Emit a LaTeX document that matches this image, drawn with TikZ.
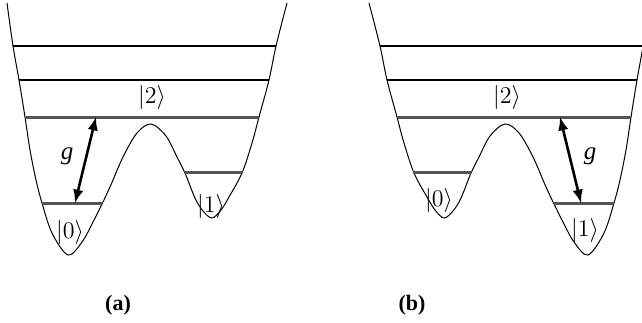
\documentclass[tikz,border=0pt]{standalone}
\usepackage{fontspec}
\setmainfont{Liberation Serif}
\usepackage{amsmath}
\usetikzlibrary{arrows}
\definecolor{lvlgray}{RGB}{85,85,85}

\begin{document}
\begin{tikzpicture}[x=0.5pt,y=-0.5pt]
\useasboundingbox (0,0) rectangle (642,322);
\def\wall{plot[smooth, tension=0.55] coordinates {(7,3) (13,46) (19,80) (25,117) (30,150) (36,180) (42,203) (52,233) (68,255) (82,242) (92,224) (102,204) (110,187) (123,157) (137,133) (151,124) (166,136) (177,157) (185,173) (195,198) (203,211) (212,218) (221,210) (229,197) (242,173) (252,143) (259,117) (269,80) (276,46) (287,3)}}
\tikzset{lvl/.style={line width=1.5pt, color=lvlgray},
 thin lvl/.style={line width=0.6pt},
 ket/.style={font=\fontsize{12.5}{12.5}\selectfont, inner sep=1pt},
 coup/.style={latex-latex, line width=1.3pt}}

% (a) deep well on the left
\draw[line width=0.5pt] \wall;
\begin{scope}
\clip \wall -- cycle;
\draw[thin lvl] (0,46) -- (300,46);
\draw[thin lvl] (0,80) -- (300,80);
\draw[lvl] (0,117) -- (300,117);
\draw[lvl] (0,203) -- (150,203);
\draw[lvl] (150,172) -- (300,172);
\end{scope}
\coordinate (a-up) at (96,117);
\coordinate (a-lo) at (75,203);
\draw[coup] (a-up) -- (a-lo);
\node[ket] (a-two) at (152,97) {$\left|2\right\rangle$};
\node[ket] (a-zero) at (70,232) {$\left|0\right\rangle$};
\node[ket] (a-one) at (211,206) {$\left|1\right\rangle$};
\node[font=\fontsize{12.5}{12.5}\selectfont\itshape] (a-g) at (67,156) {g};
\node[font=\fontsize{11}{11}\selectfont\bfseries] (a-lab) at (118,305) {(a)};

% (b) same picture, mirrored
\begin{scope}[shift={(656,0)}, xscale=-1]
\draw[line width=0.5pt] \wall;
\begin{scope}
\clip \wall -- cycle;
\draw[thin lvl] (0,46) -- (300,46);
\draw[thin lvl] (0,80) -- (300,80);
\draw[lvl] (0,117) -- (300,117);
\draw[lvl] (0,203) -- (150,203);
\draw[lvl] (150,172) -- (300,172);
\end{scope}
\coordinate (b-up) at (96,117);
\coordinate (b-lo) at (75,203);
\end{scope}
\draw[coup] (b-up) -- (b-lo);
\node[ket] (b-two) at (507,97) {$\left|2\right\rangle$};
\node[ket] (b-zero) at (439,200) {$\left|0\right\rangle$};
\node[ket] (b-one) at (585,230) {$\left|1\right\rangle$};
\node[font=\fontsize{12.5}{12.5}\selectfont\itshape] (b-g) at (590,156) {g};
\node[font=\fontsize{11}{11}\selectfont\bfseries] (b-lab) at (412,305) {(b)};
\end{tikzpicture}
\end{document}
